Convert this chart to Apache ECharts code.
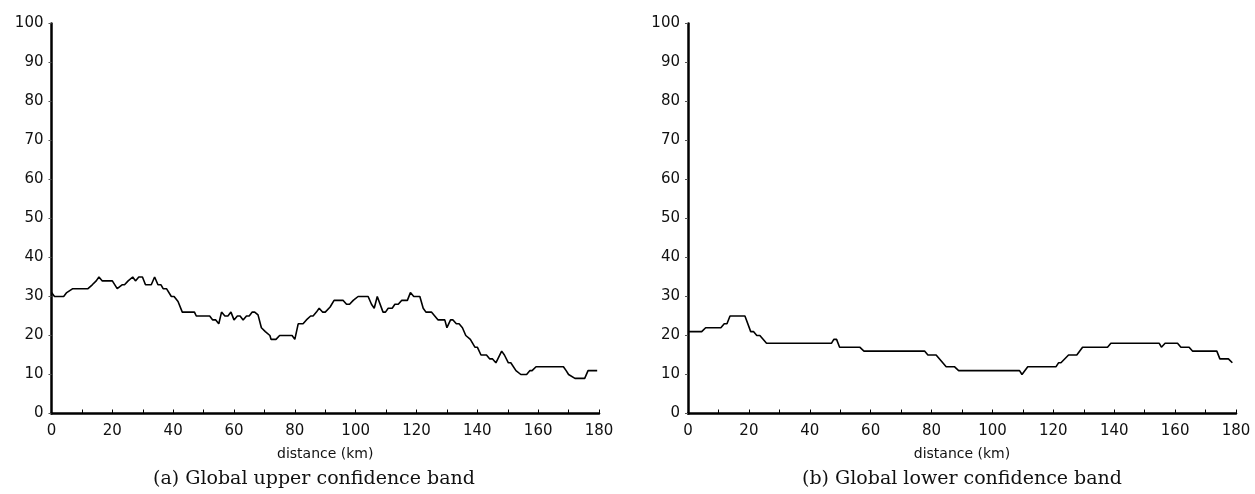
<!DOCTYPE html>
<html>
<head>
<meta charset="utf-8">
<script src="https://cdn.jsdelivr.net/npm/echarts@6/dist/echarts.min.js"></script>
<style>
html,body{margin:0;padding:0;background:#fff;}
#c{width:1255px;height:494px;}
</style>
</head>
<body>
<div id="c"></div>
<script>
// Upper confidence band (vertices: distance km, value)
const upperKm = [0,1,4,5,7,12,13.4,14.7,15.6,16.7,20,21.6,23.2,24,25.2,26.7,27.6,28.7,29.9,30.9,32.8,33.9,35,36,36.7,37.8,39.4,40.3,41.6,43,47,47.6,52,53,54,55,55.9,57,58,59,60,61.1,62,63,64.1,65,66,66.8,67.9,69,70.3,71.8,72.2,73.8,75,79.1,80,81.1,82.7,83.8,85.2,86,87.1,88,89.1,90,91.6,92.9,95.9,97,98,99.2,100.8,104.1,105.2,106.1,107.1,109,109.8,110.7,112,112.9,114,115.1,117,118,119.1,121.1,122.2,123.1,124.9,126,127.1,129.3,130,131.2,132,133.1,134,135.1,136.2,137.7,139.2,140,141.2,143,144.1,145,146.1,148,148.9,150.2,151,152.7,154.3,156.2,157.3,158,159.3,168.3,169.2,170,172.1,175.3,176.4,179.4];
const upperVal = [31,30,30,31,32,32,33,34,35,34,34,32,33,33,34,35,34,35,35,33,33,35,33,33,32,32,30,30,28.7,26,26,25,25,24,24,23,26,25,25,26,24,25,25,24,25,25,26,26,25.3,22,21,20,19,19,20,20,19,23,23,24,25,25,26,27,26,26,27.3,29,29,28,28,29,30,30,28,27,30,26,26,27,27,28,28,29,29,31,30,30,27,26,26,25,24,24,22,24,24,23,23,22,20,19,17,17,15,15,14,14,13,16,15,13,13,11,10,10,11,11,12,12,11,10,9,9,11,11];
// Lower confidence band
const lowerKm = [0,4.5,5.8,10.8,11.9,12.8,13.8,18.7,20.6,21.5,22.6,23.6,25.8,47.1,47.9,48.8,49.8,56.4,57.8,77.7,78.8,81.5,84.8,87.5,88.9,108.9,109.7,111.6,120.9,121.7,122.5,125,127.7,129.6,137.8,138.9,154.8,155.5,156.7,160.8,161.9,164.6,165.7,173.7,174.7,177.5,178.8];
const lowerVal = [21,21,22,22,23,23,25,25,21,21,20,20,18,18,19,19,17,17,16,16,15,15,12,12,11,11,10,12,12,13,13,15,15,17,17,18,18,17,18,18,17,17,16,16,14,14,13];
const xTicks = [0,20,40,60,80,100,120,140,160,180];
const xLabel = 'distance (km)';
const captions = ['(a) Global upper confidence band','(b) Global lower confidence band'];

const chart = echarts.init(document.getElementById('c'));
const tickFont = {fontFamily:'DejaVu Sans', fontSize:15, color:'#111'};
function xAxisCfg(idx){
  return {
    gridIndex: idx, type:'value', min:0, max:180, interval:10,
    name: xLabel, nameLocation:'middle', nameGap:34,
    nameTextStyle:{fontFamily:'DejaVu Sans', fontSize:14, color:'#111'},
    axisLine:{show:true, onZero:false, lineStyle:{color:'#000', width:2.5}},
    axisTick:{show:true, inside:true, length:4, lineStyle:{color:'#000', width:1}},
    axisLabel:Object.assign({margin:10, formatter:v=> xTicks.indexOf(v)>=0 ? String(v) : ''}, tickFont),
    splitLine:{show:false}
  };
}
function yAxisCfg(idx){
  return {
    gridIndex: idx, type:'value', min:0, max:100, interval:10,
    axisLine:{show:true, lineStyle:{color:'#000', width:2.5}},
    axisTick:{show:true, length:3, lineStyle:{color:'#555', width:1}},
    axisLabel:Object.assign({margin:8}, tickFont),
    splitLine:{show:false}
  };
}
chart.setOption({
  animation:false,
  backgroundColor:'#fff',
  grid:[
    {left:51.5, right:656, top:23.5, bottom:80.5},
    {left:688, right:19, top:23.5, bottom:80.5}
  ],
  xAxis:[xAxisCfg(0), xAxisCfg(1)],
  yAxis:[yAxisCfg(0), yAxisCfg(1)],
  series:[
    {type:'line', xAxisIndex:0, yAxisIndex:0, symbol:'none', lineStyle:{color:'#000', width:1.6},
     data: upperKm.map((k,i)=>[k, upperVal[i]])},
    {type:'line', xAxisIndex:1, yAxisIndex:1, symbol:'none', lineStyle:{color:'#000', width:1.6},
     data: lowerKm.map((k,i)=>[k, lowerVal[i]])}
  ],
  graphic:[
    {type:'text', x:314, y:479, style:{text:captions[0], fontFamily:'DejaVu Serif', fontSize:19, fill:'#111', align:'center', verticalAlign:'middle'}},
    {type:'text', x:962, y:479, style:{text:captions[1], fontFamily:'DejaVu Serif', fontSize:19, fill:'#111', align:'center', verticalAlign:'middle'}}
  ]
});
</script>
</body>
</html>
